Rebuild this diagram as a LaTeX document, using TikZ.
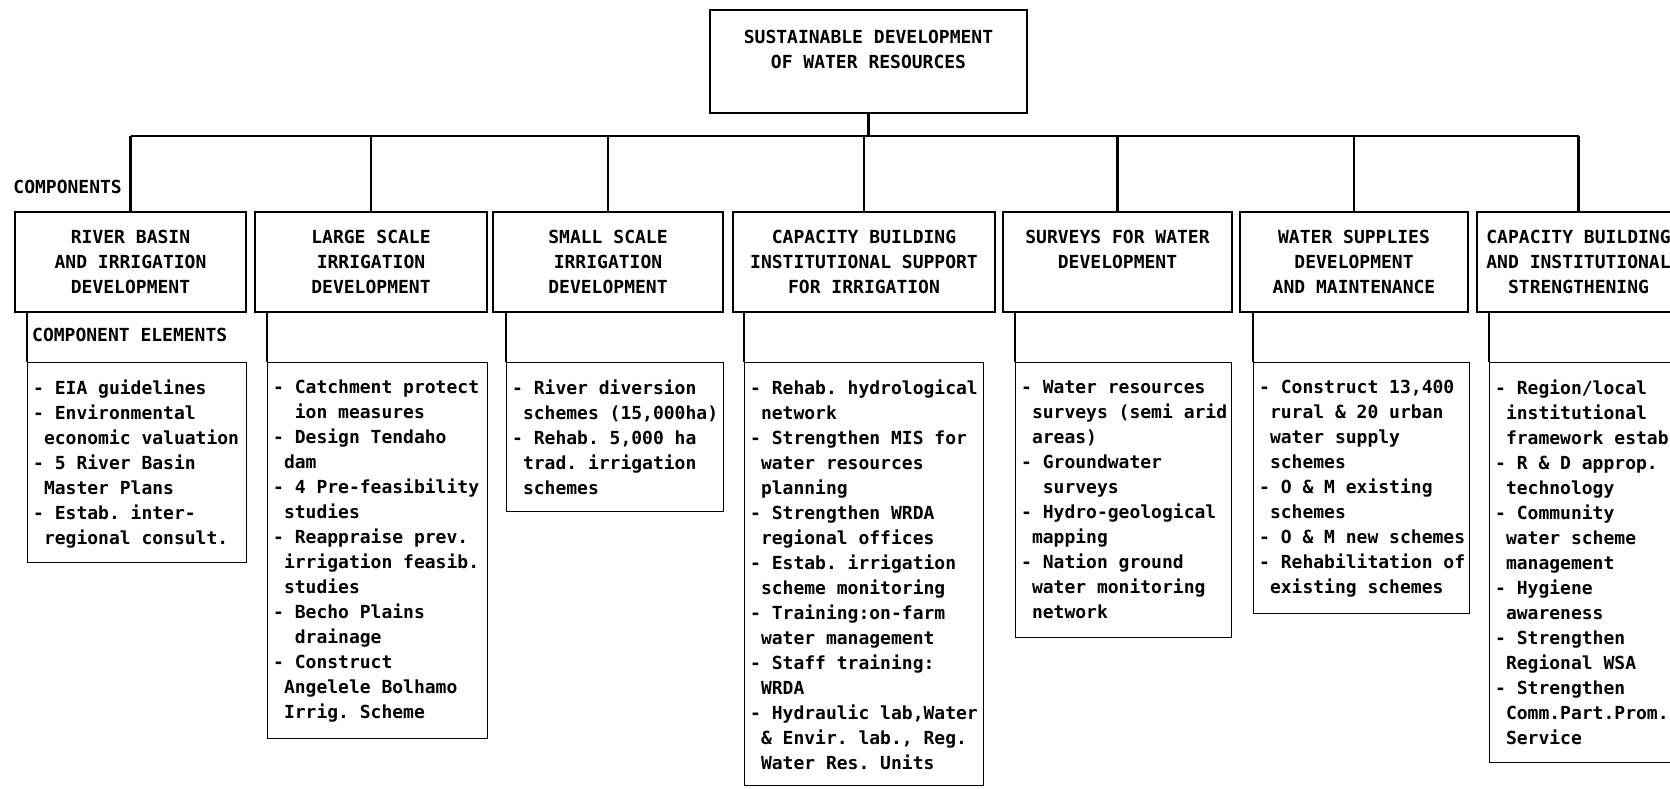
\documentclass[tikz,border=0pt]{standalone}
\usepackage{fontspec}
\setmonofont{DejaVu Sans Mono}
\newcommand{\chartfont}{\ttfamily\bfseries\fontsize{18pt}{25pt}\selectfont\frenchspacing}
\newcommand{\wrapind}{\hspace*{0.602em}}
\tikzset{
  compbox/.style={draw, line width=2.5pt, inner sep=0pt, align=center, font=\chartfont, minimum height=100pt},
  wire/.style={line width=2.5pt},
  elembox/.style={draw, line width=1.4pt, anchor=north west, inner sep=0pt},
  elemtext/.style={anchor=north west, inner xsep=6pt, inner ysep=18pt, align=left, font=\chartfont},
  elemlink/.style={line width=1.4pt}
}
\begin{document}
\begin{tikzpicture}[x=1pt,y=-1pt]
	\useasboundingbox (0,0) rectangle (1670,788);
	\clip (0,0) rectangle (1670,788);
	\node[compbox, minimum width=317pt, minimum height=103pt] (top) at (868.5,61.5) {SUSTAINABLE DEVELOPMENT\\OF WATER RESOURCES\\\mbox{}};
	\node[compbox, minimum width=231pt] (c1) at (130.5,262) {RIVER BASIN\\AND IRRIGATION\\DEVELOPMENT};
	\node[compbox, minimum width=232pt] (c2) at (371,262) {LARGE SCALE\\IRRIGATION\\DEVELOPMENT};
	\node[compbox, minimum width=230pt] (c3) at (608,262) {SMALL SCALE\\IRRIGATION\\DEVELOPMENT};
	\node[compbox, minimum width=262pt] (c4) at (864,262) {CAPACITY BUILDING\\INSTITUTIONAL SUPPORT\\FOR IRRIGATION};
	\node[compbox, minimum width=229pt] (c5) at (1117.5,262) {SURVEYS FOR WATER\\DEVELOPMENT\\\mbox{}};
	\node[compbox, minimum width=228pt] (c6) at (1354,262) {WATER SUPPLIES\\DEVELOPMENT\\AND MAINTENANCE};
	\node[compbox, minimum width=203pt] (c7) at (1578.5,262) {CAPACITY BUILDING\\AND INSTITUTIONAL\\STRENGTHENING};
	\node[font=\chartfont, anchor=east, inner sep=0pt] (complabel) at (122,187) {COMPONENTS};
	\node[font=\chartfont, anchor=west, inner sep=0pt] (elemlabel) at (32,335) {COMPONENT ELEMENTS};

	\coordinate (bus) at (0,136);
	\draw[wire] (c1.north |- bus) -- (c7.north |- bus);
	\draw[wire] (top.south) -- (top.south |- bus);
	\foreach \i in {1,...,7}
		\draw[wire] (c\i.north |- bus) -- (c\i.north);

	\node[elembox, minimum width=219pt, minimum height=200pt] (l1) at (27,362) {};
	\node[elembox, minimum width=220pt, minimum height=376pt] (l2) at (267,362) {};
	\node[elembox, minimum width=217pt, minimum height=149pt] (l3) at (506,362) {};
	\node[elembox, minimum width=239pt, minimum height=423pt] (l4) at (744,362) {};
	\node[elembox, minimum width=216pt, minimum height=275pt] (l5) at (1015,362) {};
	\node[elembox, minimum width=216pt, minimum height=251pt] (l6) at (1253,362) {};
	\node[elembox, minimum width=220pt, minimum height=400pt] (l7) at (1489,362) {};
	\foreach \i in {1,...,7}
		\draw[elemlink] (c\i.south -| l\i.west) -- (l\i.north west);

	\node[elemtext] (t1) at (l1.north west) {- EIA guidelines\\- Environmental\\\wrapind economic valuation\\- 5 River Basin\\\wrapind Master Plans\\- Estab. inter-\\\wrapind regional consult.};
	\node[elemtext] (t2) at (l2.north west) {- Catchment protect\\\wrapind\wrapind ion measures\\- Design Tendaho\\\wrapind dam\\- 4 Pre-feasibility\\\wrapind studies\\- Reappraise prev.\\\wrapind irrigation feasib.\\\wrapind studies\\- Becho Plains\\\wrapind\wrapind drainage\\- Construct\\\wrapind Angelele Bolhamo\\\wrapind Irrig. Scheme};
	\node[elemtext] (t3) at (l3.north west) {- River diversion\\\wrapind schemes (15,000ha)\\- Rehab. 5,000 ha\\\wrapind trad. irrigation\\\wrapind schemes};
	\node[elemtext] (t4) at (l4.north west) {- Rehab. hydrological\\\wrapind network\\- Strengthen MIS for\\\wrapind water resources\\\wrapind planning\\- Strengthen WRDA\\\wrapind regional offices\\- Estab. irrigation\\\wrapind scheme monitoring\\- Training:on-farm\\\wrapind water management\\- Staff training:\\\wrapind WRDA\\- Hydraulic lab,Water\\\wrapind\& Envir. lab., Reg.\\\wrapind Water Res. Units};
	\node[elemtext] (t5) at (l5.north west) {- Water resources\\\wrapind surveys (semi arid\\\wrapind areas)\\- Groundwater\\\wrapind\wrapind surveys\\- Hydro-geological\\\wrapind mapping\\- Nation ground\\\wrapind water monitoring\\\wrapind network};
	\node[elemtext] (t6) at (l6.north west) {- Construct 13,400\\\wrapind rural \& 20 urban\\\wrapind water supply\\\wrapind schemes\\- O \& M existing\\\wrapind schemes\\- O \& M new schemes\\- Rehabilitation of\\\wrapind existing schemes};
	\node[elemtext] (t7) at (l7.north west) {- Region/local\\\wrapind institutional\\\wrapind framework estab\\- R \& D approp.\\\wrapind technology\\- Community\\\wrapind water scheme\\\wrapind management\\- Hygiene\\\wrapind awareness\\- Strengthen\\\wrapind Regional WSA\\- Strengthen\\\wrapind Comm.Part.Prom.\\\wrapind Service};
\end{tikzpicture}
\end{document}
